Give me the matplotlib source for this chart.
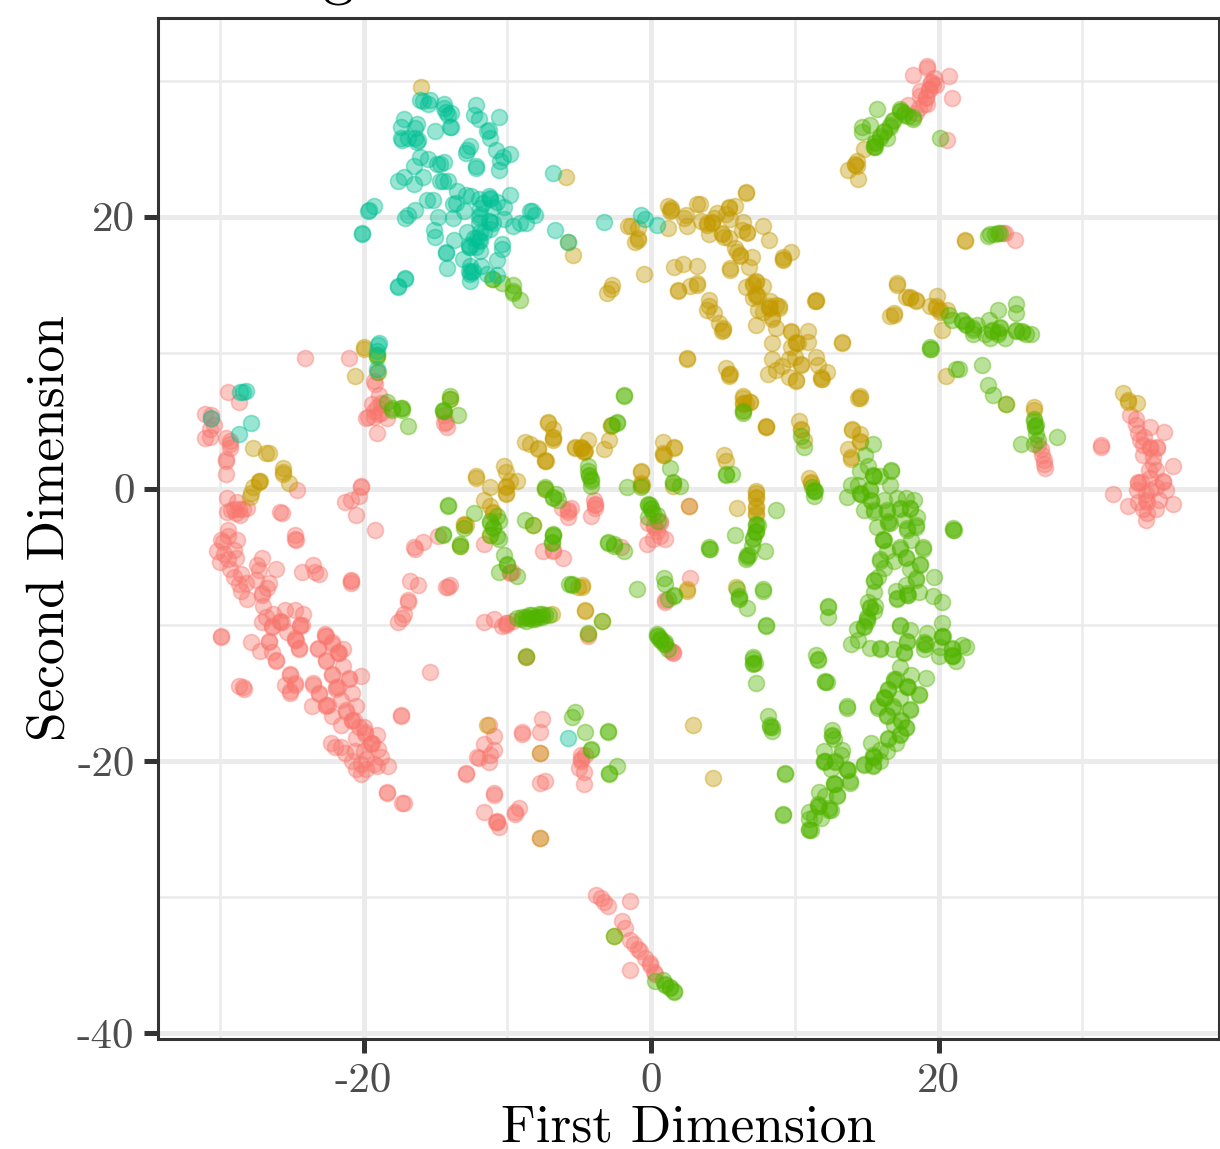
import numpy as np
import matplotlib
matplotlib.use("Agg")
import matplotlib.pyplot as plt

# points, (first dimension, second dimension)
# overlapping points are simply listed more than once
red_points = [
    (-24.1,9.6),(-21.0,9.6),(-19.1,8.6),(-19.3,7.9),(-19.2,7.7),(-18.9,6.9),(-19.4,6.2),(-18.8,6.3),(-19.1,6.0),(-18.6,6.2),
    (-19.3,5.7),(-19.8,5.2),(-19.3,5.3),(-19.0,5.5),(-18.4,5.2),(-19.1,4.1),(-19.7,5.3),(-18.8,5.6),(-29.4,7.1),(-28.7,6.4),
    (-31.0,5.5),(-30.6,5.4),(-30.6,5.1),(-30.4,4.7),(-30.7,4.4),(-31.0,3.7),(-30.7,3.8),(-29.6,3.7),(-29.3,3.5),(-29.3,3.3),
    (-29.3,3.0),(-29.6,2.2),(-29.6,2.0),(-29.6,1.1),(-29.5,-0.7),(-29.5,-1.7),(-29.2,-1.6),(-28.8,-1.0),(-28.9,-1.8),(-28.6,-1.9),
    (-28.4,-1.5),(-28.1,-1.4),(-28.7,-1.5),(-29.0,-1.5),(-24.6,-0.1),(-25.8,-1.7),(-25.7,-1.8),(-20.2,0.2),(-20.2,0.1),(-20.3,-0.5),
    (-20.9,-0.8),(-21.3,-1.0),(-20.5,-1.9),(-19.2,-3.0),(-29.4,-3.0),(-29.4,-3.5),(-24.8,-3.4),(-24.8,-3.7),(-24.7,-3.8),(-15.9,-3.9),
    (-16.5,-4.3),(-16.4,-4.4),(-14.8,-3.5),(-29.9,-3.8),(-29.8,-3.9),(-28.8,-3.8),(-30.2,-4.6),(-29.0,-4.5),(-28.9,-5.1),(-30.0,-5.4),
    (-29.4,-5.2),(-29.7,-4.8),(-27.1,-5.1),(-27.4,-5.6),(-27.3,-6.0),(-26.1,-5.9),(-29.3,-5.9),(-29.0,-6.5),(-28.5,-6.3),(-28.7,-7.0),
    (-28.2,-6.9),(-27.5,-6.7),(-26.6,-6.9),(-26.7,-7.3),(-28.5,-7.5),(-28.1,-8.1),(-27.1,-7.8),(-27.1,-7.7),(-27.0,-8.6),(-24.3,-6.1),
    (-23.5,-5.6),(-23.4,-6.1),(-23.1,-6.3),(-20.9,-6.8),(-20.9,-6.9),(-20.9,-6.7),(-16.8,-6.8),(-16.2,-7.1),(-14.3,-7.2),(-14.0,-7.1),
    (-14.1,-7.2),(-16.9,-8.3),(-16.9,-8.2),(-17.2,-9.2),(-17.3,-9.5),(-17.6,-9.8),(-26.3,-9.2),(-26.8,-9.4),(-27.1,-9.8),(-25.5,-8.9),
    (-24.8,-8.9),(-24.2,-9.2),(-25.8,-9.8),(-25.8,-9.7),(-25.7,-9.8),(-26.4,-10.1),(-26.4,-10.2),(-24.4,-10.0),(-24.4,-10.1),(-24.3,-10.0),
    (-25.3,-10.5),(-24.8,-11.1),(-24.8,-11.0),(-24.7,-11.1),(-24.5,-11.8),(-24.5,-11.7),(-29.9,-10.9),(-29.9,-10.8),(-27.8,-11.3),(-26.6,-11.3),
    (-26.6,-11.2),(-27.2,-11.9),(-26.4,-12.0),(-26.1,-12.6),(-26.1,-12.7),(-22.7,-10.8),(-22.7,-10.7),(-22.6,-10.8),(-22.2,-11.4),(-22.2,-11.3),
    (-23.2,-11.7),(-23.2,-11.8),(-21.4,-11.8),(-21.8,-12.1),(-21.8,-12.0),(-21.7,-12.1),(-22.6,-12.6),(-22.6,-12.7),(-21.4,-13.0),(-22.2,-13.6),
    (-22.2,-13.7),(-20.2,-13.8),(-21.0,-14.0),(-21.0,-13.9),(-25.1,-13.7),(-25.1,-13.6),(-24.8,-14.3),(-24.8,-14.4),(-25.5,-14.4),(-25.1,-14.9),
    (-25.1,-15.0),(-23.5,-14.4),(-23.5,-14.3),(-23.1,-15.1),(-23.1,-15.0),(-21.9,-14.6),(-21.9,-14.7),(-21.8,-14.6),(-20.8,-15.0),(-21.6,-15.5),
    (-22.6,-15.9),(-22.6,-16.0),(-22.5,-15.9),(-23.6,-16.0),(-20.5,-16.0),(-21.2,-16.4),(-21.2,-16.3),(-22.2,-16.7),(-20.8,-17.0),(-20.8,-17.1),
    (-20.7,-17.0),(-17.4,-16.7),(-17.4,-16.6),(-15.4,-13.5),(-21.6,-17.4),(-20.3,-17.5),(-20.0,-17.5),(-19.9,-17.9),(-19.9,-18.0),(-19.1,-18.1),
    (-20.5,-18.3),(-19.5,-18.7),(-19.5,-18.8),(-19.4,-18.7),(-19.0,-19.1),(-22.3,-18.7),(-22.0,-19.0),(-21.6,-19.0),(-21.3,-19.4),(-20.6,-19.3),
    (-20.0,-19.3),(-18.8,-19.7),(-20.8,-20.0),(-20.2,-20.2),(-19.8,-19.9),(-19.3,-20.2),(-20.5,-20.6),(-19.8,-20.6),(-20.2,-21.0),(-19.1,-20.4),
    (-18.3,-20.4),(-18.4,-22.3),(-18.4,-22.4),(-17.3,-23.1),(-17.2,-23.1),(-12.9,-21.0),(-28.7,-14.5),(-28.4,-14.6),(-28.3,-14.7),
    # middle
    (-11.6,-4.1),(-5.6,-1.4),(-6.2,-1.4),(-5.8,-1.6),(-5.8,-1.7),(-5.8,-2.1),(-4.0,-0.8),(-3.9,-1.2),(-3.9,-1.1),(-3.9,-1.4),
    (-4.2,-2.0),(-7.5,-4.6),(-6.8,-4.5),(-6.8,-4.6),(-6.1,-5.1),(-9.8,-6.1),(-9.8,-6.2),(-9.7,-6.1),(-2.1,-4.3),(-0.2,-2.5),
    (0.6,-2.4),(0.6,-2.5),(0.2,-2.7),(0.2,-2.8),(0.4,-3.1),(-0.3,-4.1),(1.0,-3.7),(0.6,-3.5),(0.1,-3.7),(2.6,-1.3),
    (2.7,-6.6),(1.0,-8.3),(1.0,-8.2),(-11.6,-9.8),(-10.9,-9.6),(-10.4,-10.1),(-10.1,-9.9),(-10.1,-10.0),(-10.0,-9.9),(-9.6,-9.7),
    (1.5,-12.0),(1.5,-12.1),(1.4,-11.9),(-4.4,-10.8),(-8.7,-12.4),(-14.4,5.4),(-14.2,4.5),(-14.3,4.9),(-14.4,4.8),
    (-11.3,-17.4),(-10.9,-18.2),(-11.6,-18.8),(-10.9,-19.2),(-11.2,-19.6),(-12.0,-19.8),(-11.3,-20.1),(-12.9,-20.9),(-12.1,-19.7),(-10.9,-22.5),
    (-10.9,-22.4),(-11.6,-23.8),(-10.7,-24.5),(-10.7,-24.4),(-10.8,-24.5),(-10.6,-24.9),(-9.5,-23.9),(-9.5,-23.8),(-9.2,-23.5),(-9.0,-17.9),
    (-9.0,-18.0),(-7.6,-16.9),(-7.7,-17.9),(-7.7,-19.4),(-7.4,-21.5),(-7.7,-21.6),(-7.7,-25.7),(-4.9,-19.6),(-4.9,-19.9),(-4.9,-20.0),
    (-4.6,-19.6),(-5.0,-20.5),(-4.7,-21.7),(-4.7,-20.8),
    # bottom chain
    (-3.8,-29.9),(-3.5,-30.1),(-3.3,-30.4),(-3.0,-30.7),(-1.5,-30.3),(-2.0,-31.8),(-1.8,-32.3),(-1.5,-33.2),(-1.2,-33.5),(-1.5,-35.4),
    (-0.8,-34.0),(-0.4,-34.5),(-0.1,-35.0),(-0.1,-34.9),(0.2,-35.5),(0.3,-35.7),(-0.9,-33.8),
    # top right
    (19.2,31.1),(19.2,30.9),(18.2,30.4),(20.7,30.3),(19.7,30.2),(19.5,29.8),(19.5,29.9),(19.6,29.7),(19.8,29.7),(19.3,29.4),
    (19.3,29.3),(18.7,29.2),(18.7,28.9),(20.9,28.7),(19.1,28.7),(19.1,28.8),(19.0,28.3),(17.9,28.2),(19.2,28.3),(18.6,28.0),
    (18.4,27.6),(20.6,25.6),(24.5,18.8),(24.6,18.8),(25.3,18.3),
    # far right
    (31.3,3.2),(31.3,3.1),(32.1,-0.4),(33.2,-1.3),(33.9,-1.0),(34.4,-2.3),(34.5,-1.8),(34.2,-1.5),(33.8,-0.1),(33.9,0.4),
    (33.9,0.5),(34.1,0.5),(34.7,-0.1),(35.1,0.1),(35.8,-0.1),(36.3,-1.1),(36.3,1.7),(35.1,1.4),(34.9,1.8),(34.7,0.8),
    (34.4,-0.4),(35.3,-0.8),(34.4,-0.8),(35.6,0.5),(35.6,0.6),(34.6,1.4),(34.9,2.3),(34.7,3.0),(34.7,3.1),(35.2,3.0),
    (35.2,3.1),(35.7,4.2),(34.7,4.5),(33.7,4.7),(34.0,3.6),(33.9,4.1),(33.3,5.4),(33.7,5.1),(34.2,2.5),(34.2,3.2),
    (34.3,3.8),(35.1,-1.5),(34.5,-1.0),(27.2,2.5),(27.3,2.1),(27.3,1.8),(27.4,1.5),(27.1,2.9),(26.9,3.2),
]

gold_points = [
    (6.6,21.7),(6.6,21.8),(1.2,20.8),(1.4,20.5),(1.4,20.6),(1.3,20.4),(3.2,20.9),(3.4,20.9),(2.4,20.1),(2.3,19.9),
    (2.5,19.3),(1.2,19.2),(-1.6,19.3),(-1.4,19.3),(-0.9,19.2),(-0.9,18.3),(-0.9,18.4),(-1.1,18.1),(3.5,19.7),(3.9,19.4),
    (3.9,19.5),(4.2,19.6),(4.2,19.5),(4.6,20.3),(4.0,18.7),(4.9,18.8),(4.9,18.7),(5.1,18.5),(5.4,18.4),(5.4,20.7),
    (5.4,20.6),(5.8,20.8),(5.2,20.2),(5.5,19.8),(4.4,19.9),(6.4,19.6),(6.3,19.0),(6.7,18.8),(6.7,18.9),(7.8,19.3),
    (8.2,18.3),(5.8,17.7),(6.0,17.4),(6.2,17.2),(6.2,17.1),(7.0,17.0),(9.7,17.4),(9.2,16.9),(9.2,17.0),(9.2,16.8),
    (-0.5,15.8),(5.5,16.2),(5.5,16.1),(6.8,16.3),(1.6,16.3),(2.2,16.5),(3.2,16.4),(-2.7,15.0),(-2.8,14.7),(-3.1,14.4),
    (1.9,14.6),(1.9,14.5),(2.7,14.9),(3.2,15.1),(3.2,15.0),(4.0,13.9),(4.0,13.4),(3.9,13.1),(4.4,12.9),(4.7,12.2),
    (5.0,11.7),(5.0,11.8),(4.9,11.6),(7.3,15.3),(7.3,15.2),(7.1,15.0),(7.1,15.1),(7.8,14.9),(6.6,14.8),(7.3,14.2),
    (7.3,14.3),(7.4,14.2),(7.1,14.0),(8.3,13.8),(8.7,13.5),(8.2,13.3),(8.2,13.4),(8.3,13.3),(8.9,13.3),(8.9,13.4),
    (7.4,13.1),(7.8,13.0),(8.4,12.5),(8.4,12.6),(7.3,12.0),(8.7,11.8),(9.7,11.6),(9.7,11.5),(10.9,11.6),(10.9,10.8),
    (10.1,10.7),(10.1,10.8),(10.2,10.7),(9.7,10.4),(8.4,10.7),(11.5,13.8),(11.5,13.9),(11.4,13.8),(13.3,10.7),(13.3,10.8),
    (2.5,9.5),(2.5,9.6),(8.4,9.5),(10.0,9.7),(11.5,9.7),(5.2,8.9),(5.4,8.4),(5.4,8.3),(5.5,8.4),(10.4,9.2),
    (10.4,9.1),(9.6,9.5),(9.1,9.0),(8.7,8.7),(8.1,8.4),(9.6,8.2),(10.1,7.9),(10.1,8.0),(11.6,9.1),(12.2,8.6),
    (11.8,8.1),(11.8,8.2),(11.9,8.1),(14.5,6.7),(14.5,6.8),(14.4,6.7),(6.4,6.8),(6.9,6.4),(6.6,6.3),(6.4,5.8),
    (8.0,4.6),(8.0,4.5),(10.3,5.0),(10.4,4.4),(10.4,4.3),(14.0,4.4),(14.0,4.3),(14.5,4.0),(14.5,3.4),(14.5,3.5),
    (13.7,2.9),(13.9,2.2),(13.9,2.3),(11.0,0.8),(11.1,0.4),(11.1,0.5),(10.6,3.6),
    (-16.0,29.5),(-5.9,22.9),(-5.8,18.1),(-5.4,17.2),
    # top right
    (14.4,22.8),(13.7,23.4),(14.2,23.8),(14.2,23.9),(14.3,23.7),(14.8,25.0),(14.3,24.1),(21.8,18.2),(21.8,18.3),(17.1,15.0),
    (17.1,15.1),(17.7,14.1),(18.0,14.0),(18.0,14.1),(18.4,13.8),(18.4,13.9),(19.9,14.2),(19.4,13.4),(19.8,13.3),(19.8,13.4),
    (20.1,13.0),(20.1,13.1),(20.6,13.1),(20.2,11.7),(16.6,12.7),(16.9,12.8),(16.9,12.9),(20.5,8.3),(24.7,6.2),(26.6,6.0),
    (26.6,5.8),(32.8,7.0),(33.2,6.4),(33.2,6.5),(33.8,6.3),
    # left
    (-20.0,10.4),(-20.0,10.3),(-19.1,9.8),(-20.6,8.3),(-27.7,3.0),(-26.8,2.6),(-26.6,2.6),(-25.6,1.5),(-25.6,1.2),(-25.6,1.1),
    (-25.2,0.4),(-27.3,0.6),(-27.3,0.5),(-27.2,0.6),(-27.7,0.1),(-27.8,-0.3),(-27.9,-0.6),(-12.2,0.9),(-12.2,0.8),(-14.0,6.6),
    (-13.0,-2.7),(-13.0,-2.6),(-12.9,-2.7),(-13.3,-4.2),
    # middle
    (-7.2,4.9),(-7.2,4.8),(-6.8,4.4),(-6.8,3.7),(-6.8,3.8),(-6.8,3.6),(-8.8,3.4),(-8.4,3.3),(-7.9,3.0),(-7.9,2.9),
    (-7.4,2.0),(-7.4,2.1),(-7.3,2.0),(-10.2,1.7),(-10.1,1.2),(-9.8,0.6),(-9.3,0.6),(-10.1,0.1),(-10.1,0.2),(-10.1,-0.4),
    (-10.1,-0.3),(-11.2,0.1),(-11.6,-0.8),(-11.2,-1.3),(-11.0,-1.8),(-11.0,-1.7),(-11.2,-3.4),(-7.4,0.0),(-8.2,-2.7),(-4.4,3.6),
    (-5.3,3.1),(-5.3,3.0),(-4.9,3.0),(-4.9,3.1),(-4.8,3.0),(-4.7,2.8),(-4.7,2.7),(-4.6,2.8),(-3.3,2.9),(-2.9,3.6),
    (-2.8,4.7),(-2.8,4.6),(-0.7,1.3),(-0.7,1.2),(-0.7,0.3),(-0.7,0.4),(-0.6,0.3),(0.8,3.4),(1.6,3.0),(1.6,3.1),
    (0.8,2.5),(0.8,2.6),(0.9,2.5),(6.4,6.7),(6.4,6.2),(6.4,6.3),(6.9,6.4),(8.0,4.5),(5.1,2.5),(5.2,2.0),
    (7.3,-0.2),(7.3,-0.3),(7.3,-0.7),(7.3,-0.6),(7.3,-1.4),(7.3,-1.3),(7.3,-1.8),(7.3,-1.9),(6.0,-1.4),(1.5,0.2),
    (2.6,-1.3),(2.5,-7.5),(2.5,-7.4),(5.9,-7.2),(-4.6,-8.9),(-4.6,-9.0),(-4.8,-7.2),(-4.8,-7.1),(-5.1,-7.2),(-3.4,-9.7),
    (-4.4,-10.7),(-8.7,-12.4),(-6.9,-9.2),(2.9,-17.4),(4.3,-21.3),(-2.6,-32.9),(-11.4,-17.4),(-7.7,-19.4),(-7.7,-25.7),
]

green_points = [
    (-1.9,6.9),(-1.9,6.8),(-2.4,4.9),(-2.4,4.8),(-2.7,4.7),(-4.4,1.7),(-4.4,1.3),(-4.3,0.9),(-4.3,1.0),(-4.2,0.6),
    (-4.2,0.7),(-4.2,0.2),(-1.7,0.1),(-0.7,0.1),(1.3,1.5),(1.5,0.4),(1.5,0.5),(2.0,0.2),(-7.4,0.0),(-7.4,0.1),
    (-6.6,-0.4),(-6.8,-0.7),(-6.8,-0.6),(-6.5,-0.8),(-8.8,-2.3),(-8.2,-2.7),(-11.2,-2.5),(-11.2,-2.4),(-10.7,-2.0),(-10.6,-2.4),
    (-11.0,-2.9),(-11.0,-2.8),(-10.7,-3.5),(-10.6,-3.7),(-11.2,-3.4),(-10.2,-4.9),(-10.0,-5.6),(-10.0,-5.5),(-10.6,-6.1),(-9.3,-6.4),
    (-6.8,-3.4),(-6.8,-3.3),(-6.8,-3.5),(-6.9,-4.0),(-6.9,-3.9),(-3.0,-4.0),(-3.0,-3.9),(-2.6,-4.2),(-2.6,-4.1),(-1.9,-4.6),
    (-0.2,-1.2),(-0.2,-1.1),(-0.1,-1.2),(0.0,-1.5),(0.0,-1.4),(0.1,-1.8),(0.4,-1.9),(-0.2,-2.1),(0.5,-2.4),(6.4,5.7),
    (6.4,5.6),(5.2,1.1),(5.2,1.0),(5.6,1.1),(7.3,-2.7),(7.3,-2.6),(7.4,-2.7),(7.3,-3.2),(7.3,-3.1),(7.2,-3.2),
    (7.1,-3.7),(7.1,-3.6),(7.0,-4.2),(6.7,-5.0),(6.7,-4.9),(6.8,-4.9),(6.6,-5.2),(7.9,-4.6),(5.8,-3.4),(8.7,-1.6),
    (4.0,-4.4),(4.0,-4.3),(4.1,-4.4),(-1.0,-7.4),(0.9,-6.6),(1.0,-7.0),(1.6,-7.9),(1.6,-7.8),(1.2,-8.1),(-5.7,-7.0),
    (-5.5,-7.1),(-5.5,-7.0),(-3.4,-9.7),(-4.4,-10.6),(-8.7,-12.3),(-9.3,-9.5),(-9.0,-9.4),(-9.0,-9.6),(-8.7,-9.7),(-8.7,-9.4),
    (-8.5,-9.3),(-8.5,-9.5),(-8.3,-9.6),(-8.3,-9.3),(-8.1,-9.4),(-8.1,-9.6),(-7.8,-9.2),(-7.8,-9.4),(-7.6,-9.4),(-7.6,-9.2),
    (-7.4,-9.3),(-7.1,-9.3),(0.4,-10.8),(0.4,-10.7),(0.5,-10.8),(0.6,-11.1),(0.6,-11.0),(0.7,-11.1),(1.0,-11.4),(1.0,-11.3),
    (0.9,-11.4),(1.2,-11.8),(6.0,-7.4),(6.1,-8.0),(6.1,-7.9),(6.1,-8.1),(6.7,-8.8),(7.8,-7.4),(7.8,-7.5),(8.0,-10.0),
    (8.0,-10.1),(7.1,-12.5),(7.1,-12.4),(7.1,-12.8),(7.1,-12.9),(7.2,-12.8),(7.3,-14.3),(8.1,-16.7),(8.3,-17.5),(8.3,-17.4),
    (8.4,-17.5),(8.4,-17.8),(9.3,-21.0),(9.3,-20.9),(9.2,-23.9),(9.2,-24.0),(-3.0,-17.9),(-3.0,-17.8),(-5.3,-16.4),(-5.5,-16.8),
    (-4.6,-17.9),(-4.2,-19.2),(-4.2,-19.1),(-2.4,-20.4),(-2.9,-21.0),(-2.9,-20.9),(-2.6,-32.9),(0.3,-36.2),(0.8,-36.1),(1.0,-36.5),
    (1.0,-36.4),(1.3,-36.7),(1.3,-36.6),(1.6,-37.0),(1.6,-36.9),
    # left
    (-19.1,9.8),(-19.1,9.7),(-19.0,8.6),(-18.4,6.4),(-18.0,5.8),(-18.0,5.9),(-17.3,5.9),(-17.3,5.8),(-17.4,5.9),(-16.9,4.6),
    (-14.0,6.8),(-14.0,6.6),(-14.5,5.7),(-14.5,5.8),(-14.4,5.7),(-13.4,5.4),(-14.1,-1.3),(-14.1,-1.2),(-12.3,-1.8),(-14.5,-3.4),
    (-14.5,-3.3),(-13.3,-4.2),(-13.3,-4.1),(-13.0,-2.9),(-11.0,15.4),(-10.4,15.1),(-9.6,15.0),(-9.6,14.4),(-9.6,14.5),(-9.1,13.9),
    (-11.1,15.4),
    # top right
    (15.7,27.9),(17.3,27.8),(17.3,27.9),(17.4,27.8),(17.6,27.6),(17.6,27.5),(18.2,27.2),(18.2,27.3),(17.9,27.4),(16.8,27.0),
    (16.8,27.1),(16.6,26.6),(16.6,26.7),(16.2,26.2),(16.2,26.3),(15.9,25.9),(15.9,25.8),(16.4,25.8),(15.6,25.5),(15.6,25.4),
    (15.5,25.1),(15.5,25.2),(15.6,25.1),(14.7,26.6),(15.2,26.7),(14.7,26.2),(20.1,25.8),(23.4,18.6),(23.6,18.7),(23.9,18.7),
    (24.1,18.8),(24.3,18.8),
    # tail to the right
    (20.7,12.8),(20.9,12.4),(21.6,12.4),(21.6,12.3),(21.9,12.0),(21.9,12.1),(22.4,11.8),(22.4,11.7),(22.7,12.0),(22.4,11.4),
    (23.5,12.4),(24.1,13.1),(25.4,13.6),(25.4,12.9),(23.2,11.4),(23.6,11.1),(24.3,11.9),(24.3,11.8),(24.1,11.4),(24.1,11.5),
    (24.6,11.1),(23.7,11.7),(23.7,11.6),(25.4,11.7),(25.4,11.6),(25.8,11.5),(25.8,11.6),(26.1,11.4),(26.4,11.4),(19.4,10.3),
    (19.4,10.4),(19.5,10.3),(21.2,8.8),(21.4,8.8),(23.0,9.1),(23.4,7.6),(23.8,6.9),(24.7,6.2),(26.6,5.1),(26.6,5.0),
    (26.7,4.6),(26.7,4.5),(26.6,3.3),(25.7,3.3),(28.2,3.8),(26.8,4.7),(26.8,4.0),(26.9,3.6),
    # big arc
    (11.3,-0.2),(11.3,-0.1),(11.4,-0.2),(11.3,-0.5),(11.2,0.1),(10.6,3.1),(10.4,3.9),(15.4,3.3),(14.9,2.5),(15.1,1.7),
    (14.5,1.3),(16.7,1.4),(16.7,1.3),(15.4,0.9),(15.4,1.0),(15.5,0.9),(13.9,0.3),(14.4,0.3),(15.9,0.9),(16.6,0.3),
    (13.6,-0.6),(14.5,-0.4),(14.5,-0.3),(14.6,-0.4),(15.2,-0.1),(15.2,0.0),(15.3,-0.9),(15.3,-0.8),(16.2,-0.8),(17.1,-0.7),
    (17.7,-0.7),(18.3,-0.8),(14.8,-1.6),(15.5,-1.7),(15.5,-1.6),(16.4,-1.6),(16.4,-1.7),(17.3,-1.5),(17.3,-1.4),(18.0,-1.4),
    (18.0,-1.5),(18.5,-2.1),(15.7,-2.8),(16.5,-2.5),(16.5,-2.4),(16.6,-2.5),(17.6,-2.3),(18.4,-2.8),(18.4,-2.7),(17.8,-3.0),
    (17.8,-2.9),(18.1,-3.8),(16.1,-3.8),(16.1,-3.7),(16.2,-3.8),(21.0,-3.0),(21.0,-2.9),(21.1,-3.0),(18.9,-4.4),(18.9,-4.3),
    (17.3,-4.3),(17.3,-4.4),(16.4,-4.6),(17.7,-5.1),(17.7,-5.0),(15.9,-5.3),(15.9,-5.2),(16.9,-5.3),(18.7,-5.6),(18.7,-5.5),
    (16.2,-5.8),(18.0,-5.9),(19.7,-6.5),(15.8,-6.5),(15.5,-6.7),(15.5,-6.8),(18.4,-6.7),(18.4,-6.6),(17.7,-7.1),(17.0,-7.5),
    (18.6,-7.6),(15.5,-7.6),(17.8,-7.8),(17.8,-7.7),(17.9,-7.8),(17.1,-8.1),(17.1,-8.0),(19.6,-7.9),(20.2,-8.3),(15.1,-8.3),
    (15.6,-8.6),(15.2,-8.7),(15.2,-8.8),(15.5,-9.0),(15.0,-9.4),(15.0,-9.7),(15.0,-9.6),(12.3,-8.6),(12.3,-8.7),(12.3,-9.4),
    (14.8,-10.2),(14.8,-10.1),(14.3,-10.3),(14.4,-11.1),(13.9,-11.4),(17.3,-10.0),(17.3,-10.1),(18.0,-10.4),(20.2,-9.9),(19.2,-10.6),
    (20.2,-10.8),(20.2,-10.9),(20.3,-10.8),(17.8,-11.3),(17.8,-11.2),(19.0,-11.4),(19.0,-11.3),(19.1,-11.4),(15.2,-11.7),(15.9,-11.8),
    (15.9,-11.7),(16.8,-11.8),(17.6,-12.1),(17.6,-12.0),(19.0,-11.8),(20.1,-11.6),(20.9,-11.7),(20.9,-11.8),(21.6,-11.5),(21.9,-11.6),
    (20.0,-12.3),(20.9,-12.3),(20.9,-12.2),(21.0,-12.3),(21.2,-12.7),(11.5,-12.2),(11.6,-12.6),(11.6,-12.5),(12.1,-14.2),(12.1,-14.1),
    (12.2,-14.2),(17.3,-13.1),(18.1,-13.7),(19.1,-13.9),(16.9,-14.0),(16.9,-14.1),(17.0,-14.0),(17.8,-14.6),(17.8,-14.5),(17.9,-14.6),
    (16.5,-14.8),(16.5,-14.7),(18.6,-15.1),(18.6,-15.2),(16.2,-15.4),(16.2,-15.3),(16.3,-15.4),(17.3,-15.4),(15.8,-16.0),(15.8,-16.1),
    (16.8,-16.1),(16.8,-16.0),(18.0,-16.2),(18.0,-16.3),(16.4,-16.7),(16.4,-16.6),(13.6,-16.1),(13.6,-16.0),(17.4,-17.0),(17.4,-17.1),
    (17.7,-17.6),(17.7,-17.5),(16.9,-17.4),(12.6,-17.7),(17.3,-18.1),(17.3,-18.0),(16.5,-18.4),(16.5,-18.3),(12.6,-18.1),(12.6,-18.2),
    (12.7,-18.4),(17.0,-18.7),(15.3,-18.7),(15.9,-19.2),(16.4,-19.3),(13.3,-19.2),(12.0,-19.3),(13.2,-19.6),(15.4,-19.7),(15.4,-19.6),
    (15.5,-19.7),(15.9,-20.0),(12.0,-20.0),(12.0,-20.1),(12.1,-20.0),(12.8,-20.1),(12.8,-20.0),(14.8,-20.3),(14.8,-20.2),(15.4,-20.4),
    (15.4,-20.3),(12.5,-20.6),(13.6,-20.7),(13.6,-20.6),(13.7,-20.7),(13.8,-21.6),(13.8,-21.5),(12.7,-21.7),(12.7,-21.6),(12.8,-21.7),
    (11.7,-22.3),(12.9,-22.6),(12.9,-22.5),(12.1,-22.6),(11.6,-23.3),(11.6,-23.2),(11.7,-23.3),(12.4,-23.6),(12.4,-23.5),(12.5,-23.6),
    (11.0,-23.8),(11.8,-24.2),(11.0,-24.3),(11.0,-25.1),(11.0,-25.0),(11.1,-25.1),(11.3,-24.1),
]

teal_points = [
    (-16.1,28.6),(-15.9,28.5),(-15.4,28.6),(-15.5,28.3),(-14.4,28.3),(-14.4,28.0),(-14.3,27.7),(-13.9,27.6),(-14.1,27.5),(-12.2,28.2),
    (-12.3,27.5),(-12.0,27.2),(-10.6,27.3),(-17.2,27.2),(-16.3,26.8),(-17.4,26.6),(-16.4,26.5),(-15.0,26.3),(-14.0,26.6),(-13.9,26.6),
    (-11.4,26.3),(-11.3,26.4),(-11.2,25.8),(-17.4,25.8),(-17.3,25.6),(-16.9,25.8),(-16.4,25.8),(-16.2,25.6),(-16.3,25.5),(-12.6,25.2),
    (-12.9,24.7),(-12.8,24.9),(-10.8,24.9),(-9.8,24.6),(-10.3,24.4),(-10.5,24.1),(-10.6,23.4),(-16.1,24.4),(-15.5,24.2),(-14.9,23.9),
    (-14.4,24.0),(-14.7,23.9),(-12.2,23.7),(-12.2,23.6),(-16.5,23.7),(-17.2,22.9),(-17.6,22.6),(-15.9,22.9),(-16.5,22.4),(-14.7,22.6),
    (-14.5,22.6),(-14.1,22.6),(-13.5,21.9),(-12.9,21.6),(-12.5,21.5),(-12.0,21.3),(-11.2,21.3),(-10.7,21.1),(-9.8,21.6),(-15.6,21.2),
    (-15.2,21.2),(-13.6,21.0),(-13.8,20.9),(-11.0,20.7),(-10.2,20.7),(-11.9,20.6),(-16.4,20.5),(-16.9,20.1),(-17.1,19.9),(-13.0,20.4),
    (-12.0,20.0),(-14.8,20.0),(-13.8,19.9),(-10.2,19.8),(-11.0,19.5),(-12.0,19.5),(-11.2,19.1),(-8.3,20.4),(-8.1,20.1),(-9.6,19.3),
    (-9.1,19.5),(-8.7,19.5),(-15.1,19.0),(-15.0,18.5),(-12.8,18.9),(-11.9,18.9),(-12.3,18.4),(-13.7,18.3),(-12.7,17.8),(-12.2,17.8),
    (-11.9,18.2),(-10.4,18.0),(-10.4,17.6),(-11.9,17.5),(-14.3,17.4),(-14.3,17.3),(-13.1,16.9),(-10.7,16.8),(-14.2,16.2),(-12.6,16.4),
    (-11.8,16.4),(-12.7,16.0),(-12.6,15.8),(-11.4,15.8),(-10.7,15.7),(-12.6,15.3),(-19.6,20.5),(-19.3,20.8),(-19.7,20.4),(-20.1,18.7),
    (-20.1,18.8),(-17.1,15.4),(-17.1,15.5),(-17.6,14.8),(-17.6,14.9),(-6.8,23.2),(-3.3,19.6),(-0.7,20.1),(-0.4,19.8),(0.4,19.4),
    (-5.8,18.1),(-6.7,19.0),(-8.4,20.4),(-19.0,10.6),(-18.9,10.7),(-19.1,10.1),(-19.1,8.8),(-28.4,7.1),(-28.2,7.2),(-28.6,7.1),
    (-30.6,5.2),(-27.8,4.8),(-28.7,4.0),(-5.8,-18.3),
    (-11.7,21.0),(-11.2,21.4),(-11.3,21.5),(-11.9,20.1),(-11.2,19.6),(-11.3,19.7),(-11.6,18.9),(-12.0,18.3),(-12.1,18.4),(-12.7,17.9),
    (-12.6,17.8),(-12.5,15.9),(-12.4,16.0),
]

x_major = [-20, 0, 20]
x_minor = [-30, -10, 10, 30]
y_major = [-40, -20, 0, 20]
y_minor = [-30, -10, 10, 30]
x_labels = ["-20", "0", "20"]
y_labels = ["-40", "-20", "0", "20"]

plt.rcParams["font.family"] = "cmr10"
plt.rcParams["axes.unicode_minus"] = False

fig = plt.figure(figsize=(12.2, 11.49), dpi=100)
ax = fig.add_axes([158 / 1220, 1 - 1039 / 1149, (1219 - 158) / 1220, (1039 - 18) / 1149])

series = [(red_points, "#F8766D"), (gold_points, "#C49A00"), (green_points, "#53B400"), (teal_points, "#00C094")]
for pts, col in series:
    arr = np.array(pts)
    ax.scatter(arr[:, 0], arr[:, 1], s=132, c=col, alpha=0.4, linewidths=1.2, zorder=3)

ax.set_xlim(-34.3, 39.5)
ax.set_ylim(-40.45, 34.6)
ax.set_xticks(x_major)
ax.set_xticklabels(x_labels)
ax.set_yticks(y_major)
ax.set_yticklabels(y_labels)
ax.set_xticks(x_minor, minor=True)
ax.set_yticks(y_minor, minor=True)
ax.set_axisbelow(True)
ax.grid(True, which="major", color="#EBEBEB", linewidth=3.6)
ax.grid(True, which="minor", color="#EBEBEB", linewidth=1.8)
ax.tick_params(which="minor", length=0)
ax.tick_params(which="major", length=10, width=3.6, color="#333333", labelcolor="#4D4D4D", labelsize=31, pad=7)
for sp in ax.spines.values():
    sp.set_color("#333333")
    sp.set_linewidth(2.2)

ax.set_xlabel("First Dimension", fontsize=38.4, labelpad=3)
ax.set_ylabel("Second Dimension", fontsize=38.4, labelpad=2)

# title is cut off by the top edge in the original, only the g tail shows
fig.text(338 / 1220, 1 + 6 / 1149, "g", fontsize=44, ha="center", va="baseline")

fig.savefig("out.png", dpi=100)
